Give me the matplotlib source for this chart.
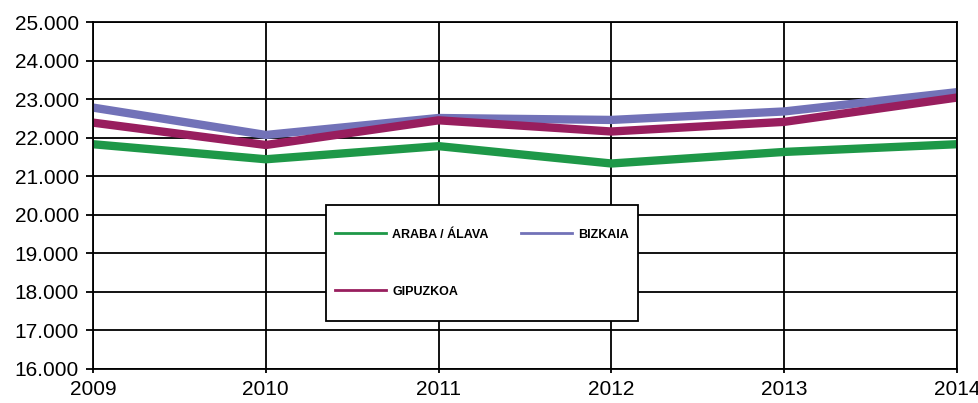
import matplotlib.pyplot as plt
from matplotlib.patches import Rectangle
from matplotlib.ticker import FuncFormatter

years = [2009, 2010, 2011, 2012, 2013, 2014]
araba = [21830, 21440, 21780, 21330, 21630, 21830]
bizkaia = [22780, 22070, 22510, 22460, 22680, 23180]
gipuzkoa = [22390, 21810, 22450, 22160, 22410, 23040]

plt.rcParams['font.family'] = ['Liberation Sans', 'DejaVu Sans']

fig = plt.figure(figsize=(9.79, 4.03), dpi=100)
ax = fig.add_axes([0.095, 0.0844, 0.8825, 0.861])

l1, = ax.plot(years, araba, color="#1e9848", lw=6, label="ARABA / ÁLAVA")
l2, = ax.plot(years, bizkaia, color="#7272b8", lw=6, label="BIZKAIA")
l3, = ax.plot(years, gipuzkoa, color="#981e5e", lw=6, label="GIPUZKOA")

ax.set_xlim(2009, 2014)
ax.set_ylim(16000, 25000)
ax.set_xticks(years)
ax.set_yticks(range(16000, 25001, 1000))
ax.yaxis.set_major_formatter(FuncFormatter(lambda v, p: f"{v:,.0f}".replace(",", ".")))
ax.grid(True, color="black", lw=1.3)
ax.set_axisbelow(True)
for s in ax.spines.values():
    s.set_color("black")
    s.set_linewidth(1.3)
ax.tick_params(axis="y", direction="out", length=5, width=1.3, labelsize=15, pad=5)
ax.tick_params(axis="x", direction="out", length=3, width=1.3, labelsize=15, pad=5)

# legend box drawn separately so its height can be set freely
box = (0.2697, 0.1383, 0.361, 0.334)
ax.add_patch(Rectangle(box[:2], box[2], box[3], transform=ax.transAxes,
                       facecolor="white", edgecolor="black", lw=1.3, zorder=4))
# rows: ARABA, BIZKAIA / GIPUZKOA (matplotlib fills by column)
leg = ax.legend([l1, l3, l2], [l1.get_label(), l3.get_label(), l2.get_label()],
                ncol=2, loc="center", bbox_to_anchor=box, mode="expand",
                borderaxespad=0, frameon=False,
                prop={"weight": "bold", "size": 9},
                handlelength=4.1, labelspacing=3.6,
                borderpad=0.7, columnspacing=1.5, handletextpad=0.5)
leg.set_zorder(5)
for line in leg.get_lines():
    line.set_linewidth(2)

plt.savefig("out.png", dpi=100)
